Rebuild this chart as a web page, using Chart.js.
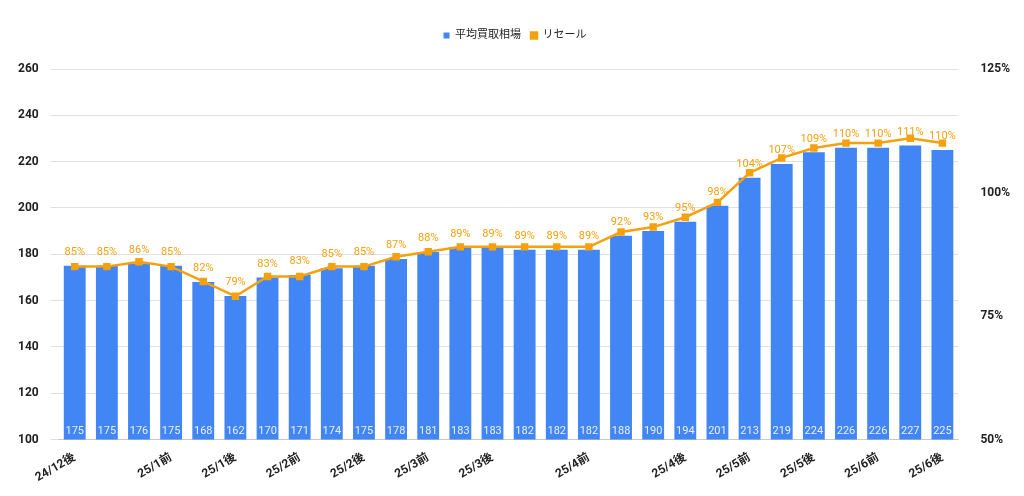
<!DOCTYPE html>
<html>
<head>
<meta charset="utf-8">
<script src="https://cdn.jsdelivr.net/npm/chart.js@4/dist/chart.umd.min.js"></script>
<style>
  html, body { margin: 0; padding: 0; background: #fff; }
  #wrap { width: 1024px; height: 496px; }
</style>
</head>
<body>
<div id="wrap"><canvas id="chart"></canvas></div>
<script>
'use strict';

const categories = ['24/12後', '', '', '25/1前', '', '25/1後', '', '25/2前', '', '25/2後',
  '', '25/3前', '', '25/3後', '', '', '25/4前', '', '', '25/4後',
  '', '25/5前', '', '25/5後', '', '25/6前', '', '25/6後'];
const buyPrice = [175, 175, 176, 175, 168, 162, 170, 171, 174, 175, 178, 181, 183, 183,
  182, 182, 182, 188, 190, 194, 201, 213, 219, 224, 226, 226, 227, 225];
const resale = [85, 85, 86, 85, 82, 79, 83, 83, 85, 85, 87, 88, 89, 89,
  89, 89, 89, 92, 93, 95, 98, 104, 107, 109, 110, 110, 111, 110];
const leftTicks = [100, 120, 140, 160, 180, 200, 220, 240, 260];
const rightTicks = [50, 75, 100, 125];

const font = "Roboto, 'Noto Sans CJK JP', sans-serif";
const blue = '#4285f4';
const orange = '#f5a10f';

// draw value labels on bars and points
const valueLabels = {
  id: 'valueLabels',
  afterDatasetsDraw(chart) {
    const ctx = chart.ctx;
    ctx.save();
    ctx.font = '11px ' + font;
    ctx.textAlign = 'center';
    const bars = chart.getDatasetMeta(0).data;
    ctx.fillStyle = '#e8f0fe';
    ctx.textBaseline = 'bottom';
    bars.forEach((b, i) => ctx.fillText(buyPrice[i], b.x, chart.chartArea.bottom - 3));
    const pts = chart.getDatasetMeta(1).data;
    ctx.fillStyle = orange;
    pts.forEach((p, i) => ctx.fillText(resale[i] + '%', p.x, p.y - 8));
    ctx.restore();
  }
};

const legendGap = {
  id: 'legendGap',
  beforeInit(chart) {
    const fit = chart.legend.fit;
    chart.legend.fit = function () { fit.bind(chart.legend)(); this.height += 18; };
  }
};

new Chart(document.getElementById('chart'), {
  data: {
    labels: categories,
    datasets: [
      {
        type: 'line',
        label: 'リセール',
        data: resale,
        yAxisID: 'y1',
        borderColor: orange,
        backgroundColor: orange,
        borderWidth: 2.5,
        pointStyle: 'rect',
        pointRadius: 3.5,
        tension: 0,
        order: 0
      },
      {
        type: 'bar',
        label: '平均買取相場',
        data: buyPrice,
        yAxisID: 'y',
        backgroundColor: blue,
        categoryPercentage: 1,
        barPercentage: 0.68,
        order: 1
      }
    ]
  },
  options: {
    responsive: true,
    maintainAspectRatio: false,
    animation: false,
    layout: { padding: { left: 6, right: 0, top: 20, bottom: 8 } },
    plugins: {
      legend: {
        reverse: true,
        labels: {
          font: { family: font, size: 11 },
          color: '#222',
          boxWidth: 6, boxHeight: 6,
          usePointStyle: true,
          pointStyle: 'rect'
        }
      },
      tooltip: { enabled: false }
    },
    scales: {
      x: {
        grid: { display: false },
        ticks: {
          autoSkip: false, maxRotation: 30, minRotation: 30,
          font: { family: font, size: 12, weight: 'bold' }, color: '#222'
        }
      },
      y: {
        position: 'left',
        min: 100, max: 260,
        afterBuildTicks: (s) => { s.ticks = leftTicks.map(v => ({ value: v })); },
        grid: { color: '#e0e0e0' },
        border: { display: false },
        ticks: { font: { family: font, size: 12, weight: 'bold' }, color: '#222', padding: 12 }
      },
      y1: {
        position: 'right',
        min: 50, max: 125,
        afterBuildTicks: (s) => { s.ticks = rightTicks.map(v => ({ value: v })); },
        grid: { display: false },
        border: { display: false },
        ticks: {
          font: { family: font, size: 12, weight: 'bold' }, color: '#222', padding: 14,
          callback: v => v + '%'
        }
      }
    }
  },
  plugins: [valueLabels, legendGap]
});
</script>
</body>
</html>
